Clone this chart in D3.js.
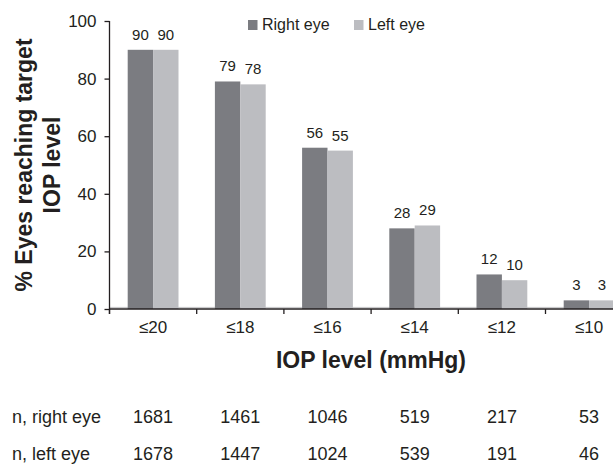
<!DOCTYPE html>
<html>
<head>
<meta charset="utf-8">
<script src="https://cdn.jsdelivr.net/npm/d3@7"></script>
<style>
	body { margin: 0; padding: 0; background: #fff; }
	text { font-family: 'Liberation Sans', Arial, Helvetica, sans-serif; fill: #231f20; }
	.axis path, .axis line { stroke: #231f20; stroke-width: 1.3; }
</style>
</head>
<body>
<div id="chart"></div>
<script>
var categories = ['\u226420', '\u226418', '\u226416', '\u226414', '\u226412', '\u226410'];
var rightEye = [90, 79, 56, 28, 12, 3];
var leftEye = [90, 78, 55, 29, 10, 3];
var nRightEye = [1681, 1461, 1046, 519, 217, 53];
var nLeftEye = [1678, 1447, 1024, 539, 191, 46];
var yTicks = [0, 20, 40, 60, 80, 100];
var seriesNames = ['Right eye', 'Left eye'];
var seriesColors = ['#7b7c81', '#bcbdc1'];

function barplot ()	{
	'use strict';

	var width = 613,
			height = 464,
			left = 109.5,
			bandStep = 87.2,
			barWidth = 25.4;

	var svg = d3.select('#chart').append('svg')
							.attr('width', width)
							.attr('height', height);

	var x = d3.scaleBand()
						.domain(categories)
						.range([left, left + bandStep * categories.length])
						.padding(0);

	var y = d3.scaleLinear()
						.domain([0, 100])
						.range([309, 21]);

	var series = [rightEye, leftEye];

	// light floor line just above the axis
	svg.append('line')
		 .attr('x1', left)
		 .attr('x2', width)
		 .attr('y1', y(0) - 1.6)
		 .attr('y2', y(0) - 1.6)
		 .attr('stroke', '#c4c4c6')
		 .attr('stroke-width', 1);

	series.forEach(function (values, s)	{
		var g = svg.append('g').attr('class', 'series_' + s);

		g.selectAll('rect')
		 .data(values)
		 .enter().append('rect')
		 .attr('x', function (d, i)	{
		 	return x(categories[i]) + x.bandwidth() / 2 - barWidth + s * barWidth;
		 })
		 .attr('y', function (d) { return y(d); })
		 .attr('width', barWidth)
		 .attr('height', function (d) { return y(0) - y(d); })
		 .attr('fill', seriesColors[s]);

		g.selectAll('text')
		 .data(values)
		 .enter().append('text')
		 .attr('x', function (d, i)	{
		 	return x(categories[i]) + x.bandwidth() / 2 - barWidth / 2 + s * barWidth;
		 })
		 .attr('y', function (d) { return y(d) - 10; })
		 .attr('text-anchor', 'middle')
		 .style('font-size', '15px')
		 .text(function (d) { return d; });
	});

	// y axis
	var yaxis = d3.axisLeft(y)
								.tickValues(yTicks)
								.tickSize(5)
								.tickPadding(8);

	var ya = svg.append('g')
							.attr('class', 'axis')
							.attr('transform', 'translate(' + left + ', 0)')
							.call(yaxis);

	ya.select('.domain').remove();
	ya.append('line')
		.attr('x1', 0).attr('x2', 0)
		.attr('y1', y(100)).attr('y2', y(0) + 5);
	ya.selectAll('text').style('font-size', '17px').attr('fill', '#231f20');

	// x axis, ticks on band edges
	var xa = svg.append('g')
							.attr('class', 'axis')
							.attr('transform', 'translate(0, ' + y(0) + ')');

	xa.append('line')
		.attr('x1', left).attr('x2', width)
		.attr('y1', 0).attr('y2', 0);

	xa.selectAll('.xtick')
		.data(categories)
		.enter().append('line')
		.attr('class', 'xtick')
		.attr('x1', function (d) { return x(d); })
		.attr('x2', function (d) { return x(d); })
		.attr('y1', 0).attr('y2', 5);

	xa.selectAll('.xlabel')
		.data(categories)
		.enter().append('text')
		.attr('class', 'xlabel')
		.attr('x', function (d) { return x(d) + x.bandwidth() / 2; })
		.attr('y', 24)
		.attr('text-anchor', 'middle')
		.style('font-size', '17px')
		.text(function (d) { return d; });

	// titles
	svg.append('text')
		 .attr('x', 371)
		 .attr('y', 368)
		 .attr('text-anchor', 'middle')
		 .style('font-size', '23px')
		 .style('font-weight', 'bold')
		 .text('IOP level (mmHg)');

	var yt = svg.append('text')
							.attr('transform', 'translate(32, 165) rotate(-90)')
							.attr('text-anchor', 'middle')
							.style('font-size', '23px')
							.style('font-weight', 'bold');

	yt.append('tspan').attr('x', 0).attr('y', 0).text('% Eyes reaching target');
	yt.append('tspan').attr('x', 0).attr('y', 28).text('IOP level');

	// legend
	var legendX = [248, 354];
	seriesNames.forEach(function (name, s)	{
		svg.append('rect')
			 .attr('x', legendX[s])
			 .attr('y', 20)
			 .attr('width', 9.5)
			 .attr('height', 10)
			 .attr('fill', seriesColors[s]);

		svg.append('text')
			 .attr('x', legendX[s] + 14)
			 .attr('y', 30)
			 .style('font-size', '16px')
			 .text(name);
	});

	// n table
	var rows = [
		{ label: 'n, right eye', values: nRightEye, y: 423 },
		{ label: 'n, left eye', values: nLeftEye, y: 460 }
	];

	rows.forEach(function (row)	{
		svg.append('text')
			 .attr('x', 12)
			 .attr('y', row.y)
			 .style('font-size', '18px')
			 .text(row.label);

		svg.selectAll(null)
			 .data(row.values)
			 .enter().append('text')
			 .attr('x', function (d, i)	{
			 	return x(categories[i]) + x.bandwidth() / 2;
			 })
			 .attr('y', row.y)
			 .attr('text-anchor', 'middle')
			 .style('font-size', '18px')
			 .text(function (d) { return d; });
	});
};

barplot();
</script>
</body>
</html>
